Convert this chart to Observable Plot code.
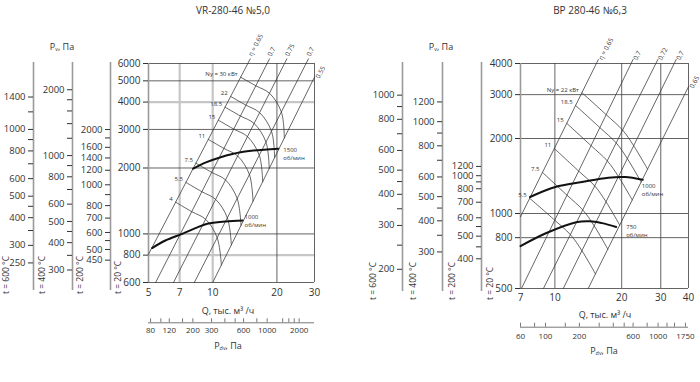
<!DOCTYPE html>
<html><head><meta charset="utf-8">
<script src="https://cdn.jsdelivr.net/npm/d3@7"></script>
<script src="https://cdn.jsdelivr.net/npm/@observablehq/plot@0.6"></script>
<style>
body{margin:0;background:#fff;}
#root{position:relative;width:700px;height:382px;overflow:hidden;font-family:"Open Sans",sans-serif;color:#333;}
.lbl{position:absolute;white-space:nowrap;transform:translate(-50%,-50%);line-height:1;}
.rot{position:absolute;white-space:nowrap;transform-origin:0 0;transform:rotate(-90deg);line-height:10px;}
sub{font-size:0.6em;vertical-align:-0.2em;}
</style></head><body><div id="root"></div>
<script>
// ================= LEFT PANEL: VR-280-46 №5,0 =================
const L_title = "VR-280-46 №5,0";
const L_qTicks = [5, 7, 10, 20, 30];
const L_pTicks = [600, 800, 1000, 2000, 3000, 4000, 5000, 6000];
const L_gridQ = [20, 30];
const L_gridQGray = [7, 10];
const L_gridP = [600, 1000, 2000, 3000, 5000, 6000];
const L_gridPGray = [800, 4000];
const L_etaNames = ["η = 0.65", "0.7", "0.75", "0.7", "0.55"];
const L_etaQ = [[5, 14.99], [5.4, 18.46], [6.55, 22.26], [8.2, 28.1], [10, 30]];
const L_etaP = [[807, 6300], [600, 6300], [600, 6300], [600, 6300], [600, 5200]];
const L_powerNames = ["Nу = 30 кВт", "22", "18.5", "15", "11", "7.5", "5.5", "4"];
const L_powerQ = [
  [13.52, 15.93, 18.45, 20.98, 21.66],
  [12.13, 14.32, 16.59, 18.86, 19.51],
  [11.43, 13.49, 15.63, 17.77, 18.40],
  [10.62, 12.55, 14.55, 16.53, 17.15],
  [9.53, 11.29, 13.09, 14.86, 15.45],
  [8.34, 9.89, 11.48, 13.02, 13.57],
  [7.49, 8.90, 10.32, 11.71, 12.23],
  [6.70, 7.97, 9.26, 10.49, 10.98]
];
const L_powerP = [
  [5195, 4746, 4390, 3605, 2743],
  [4243, 3872, 3579, 2941, 2233],
  [3790, 3455, 3194, 2625, 1991],
  [3306, 3011, 2783, 2287, 1732],
  [2701, 2456, 2269, 1866, 1410],
  [2104, 1910, 1764, 1451, 1094],
  [1719, 1558, 1438, 1184, 891],
  [1397, 1264, 1167, 961, 721]
];
const L_speedNames = ["1500", "1000"];
const L_speedQ = [[8.1, 9.3, 10.9, 13.5, 17.4, 20.3], [5.2, 6.0, 7.2, 8.3, 9.43, 11.49, 13.8]];
const L_speedP = [[1985, 2120, 2240, 2360, 2425, 2448], [862, 933, 1001, 1062, 1112, 1139, 1151]];
// auxiliary pressure scales (value at temperature t  <->  equivalent value on the 20 °C scale)
const L_t600Labels = [250, 300, 400, 500, 600, 800, 1000, 1400];
const L_t600Minor = [350, 450, 700, 900, 1200];
const L_t600Vals = [204, 1983];
const L_t600At20 = [600, 6000];
const L_t400Labels = [300, 400, 500, 600, 800, 1000, 2000];
const L_t400Minor = [350, 450, 700, 900, 1200, 1400, 1600, 1800];
const L_t400Vals = [263, 2636];
const L_t400At20 = [600, 6000];
const L_t200Labels = [450, 500, 600, 700, 800, 1000, 1200, 1400, 1600, 2000];
const L_t200Minor = [550, 900, 1800];
const L_t200Vals = [450, 500, 1000, 2000];
const L_t200At20 = [759, 849, 1676, 2997];
const L_pdvLabels = [80, 120, 200, 300, 600, 1000, 2000];
const L_pdvMinor = [100, 160, 400, 500, 800, 1400, 1600, 1800];
const L_pdvDomain = [76.5, 2790];

// ================= RIGHT PANEL: ВР 280-46 №6,3 =================
const R_title = "ВР 280-46 №6,3";
const R_qTicks = [7, 10, 20, 30, 40];
const R_pTicks = [500, 800, 1000, 2000, 3000, 4000];
const R_gridQ = [10, 20, 30, 40];
const R_gridQGray = [];
const R_gridP = [500, 800, 1000, 2000, 3000, 4000];
const R_gridPGray = [];
const R_etaNames = ["η = 0.65", "0.7", "0.72", "0.7", "0.65"];
const R_etaQ = [[7, 15.7], [7.07, 22.5], [8.88, 29.1], [10.91, 35.2], [14.13, 40]];
const R_etaP = [[970, 4150], [500, 4150], [500, 4150], [500, 4150], [500, 3227]];
const R_powerNames = ["Nу = 22 кВт", "18.5", "15", "11", "7.5", "5.5"];
const R_powerQ = [
  [13.24, 17.01, 20.2, 22.58, 26.16],
  [12.40, 15.94, 18.90, 21.15, 24.48],
  [11.31, 14.55, 17.23, 19.30, 22.32],
  [9.94, 12.80, 15.12, 16.97, 19.60],
  [8.79, 11.33, 13.35, 15.01, 17.32],
  [7.70, 9.985, 11.75, 13.23, 15.24]
];
const R_powerP = [
  [3055, 2494, 2160, 1879, 1506],
  [2714, 2212, 1919, 1667, 1337],
  [2302, 1872, 1626, 1411, 1133],
  [1824, 1480, 1290, 1117, 898],
  [1462, 1185, 1034, 894, 719],
  [1151, 940, 822, 710, 572]
];
const R_speedNames = ["1000", "750"];
const R_speedQ = [[7.73, 10.05, 13.24, 17.42, 20.7, 24.9], [7.0, 9.16, 12.47, 14.41, 16.3, 18.9]];
const R_speedP = [[1165, 1277, 1337, 1392, 1400, 1365], [740, 835, 923, 931, 915, 883]];
const R_t600Labels = [200, 300, 400, 500, 600, 800, 1000];
const R_t600Minor = [250, 350, 450, 700, 900];
const R_t600Vals = [167.5, 1340];
const R_t600At20 = [500, 4000];
const R_t400Labels = [300, 400, 500, 600, 800, 1000, 1200];
const R_t400Minor = [350, 450, 700, 900];
const R_t400Vals = [214, 1712];
const R_t400At20 = [500, 4000];
const R_t200Labels = [400, 500, 600, 700, 800, 1000, 1200];
const R_t200Minor = [450, 550, 900];
const R_t200Vals = [400, 500, 800, 1000, 1200];
const R_t200At20 = [658, 811, 1257, 1418, 1545];
const R_pdvLabels = [60, 100, 200, 600, 1000, 1750];
const R_pdvMinor = [80, 150, 300, 400, 500, 800, 1200, 1400];
const R_pdvDomain = [60, 1863];

// ================= drawing =================
const root = document.getElementById("root");
function place(el, left, top) {
  const d = document.createElement("div");
  d.style.cssText = `position:absolute;left:${left}px;top:${top}px;`;
  d.appendChild(el); root.appendChild(d);
}
function label(html, x, y, size, cls = "lbl") {
  const d = document.createElement("div");
  d.className = cls; d.innerHTML = html;
  d.style.left = x + "px"; d.style.top = y + "px"; d.style.fontSize = size + "px";
  root.appendChild(d);
}
const baseStyle = {fontFamily: "'Open Sans', sans-serif", fontSize: "10px", background: "transparent", overflow: "visible", color: "#333"};
const series = (names, Qs, Ps) => names.flatMap((name, i) => Qs[i].map((q, j) => ({name, i, q, p: Ps[i][j]})));
const firsts = (names, Qs, Ps) => names.map((name, i) => ({name, i, q: Qs[i][0], p: Ps[i][0]}));
const lasts = (names, Qs, Ps) => names.map((name, i) => ({name, i, q: Qs[i][Qs[i].length - 1], p: Ps[i][Ps[i].length - 1]}));

function mainChart(c) {
  const eta = series(c.etaNames, c.etaQ, c.etaP);
  const pow = series(c.powerNames, c.powerQ, c.powerP);
  const spd = series(c.speedNames, c.speedQ, c.speedP);
  const etaTop = lasts(c.etaNames, c.etaQ, c.etaP);
  const powStart = firsts(c.powerNames, c.powerQ, c.powerP);
  const spdEnd = lasts(c.speedNames, c.speedQ, c.speedP);
  const nEta = etaTop.length;
  return Plot.plot({
    width: c.W, height: c.H, marginLeft: c.ml, marginRight: c.mr, marginTop: c.mt, marginBottom: c.mb,
    style: baseStyle,
    x: {type: "log", domain: c.xDom, label: null},
    y: {type: "log", domain: c.yDom, label: null},
    marks: [
      Plot.ruleY(c.gridPGray, {stroke: "#c6c6c6", strokeWidth: 2.2}),
      Plot.ruleX(c.gridQGray, {stroke: "#c6c6c6", strokeWidth: 2.2}),
      Plot.ruleY(c.gridP, {stroke: "#3c3c3c", strokeWidth: 0.8}),
      Plot.ruleX(c.gridQ, {stroke: "#3c3c3c", strokeWidth: 0.8}),
      Plot.ruleX([c.xDom[0]], {stroke: "#9a9a9a", strokeWidth: 1.6}),
      Plot.line(eta, {x: "q", y: "p", z: "i", stroke: "#333", strokeWidth: 0.75}),
      Plot.line(pow, {x: "q", y: "p", z: "i", stroke: "#333", strokeWidth: 0.75, curve: "catmull-rom"}),
      Plot.line(spd, {x: "q", y: "p", z: "i", stroke: "#111", strokeWidth: 2, curve: "catmull-rom"}),
      Plot.text(etaTop.slice(0, nEta - 1), {x: "q", y: "p", text: "name", rotate: -62, textAnchor: "start", dx: c.etaDx, dy: c.etaDy, fontSize: 6.5, fill: "#333"}),
      Plot.text(etaTop.slice(nEta - 1), {x: "q", y: "p", text: "name", rotate: -62, textAnchor: "start", dx: 3, dy: 1, fontSize: 6.5, fill: "#333"}),
      Plot.text(powStart, {x: "q", y: "p", text: "name", textAnchor: "end", dx: -3, dy: -3, fontSize: 6, fill: "#333"}),
      ...spdEnd.map((d, k) => Plot.text([d], {x: "q", y: "p", text: (e) => e.name + "\nоб/мин", textAnchor: "start", lineAnchor: "top", lineHeight: 1.35, dx: c.spdOff[k][0], dy: c.spdOff[k][1], fontSize: 6, fill: "#333"})),
      Plot.axisX({ticks: c.qTicks, tickSize: 0, tickPadding: c.xPad, tickFormat: String, label: null, fontSize: 10}),
      Plot.axisY({ticks: c.pTicks, tickSize: 5, tickPadding: 3, tickFormat: String, label: null, fontSize: 10})
    ]
  });
}

function auxChart(c, mainY) {
  return Plot.plot({
    width: c.W, height: c.H, marginLeft: c.ml, marginRight: c.W - c.ml - 1, marginTop: c.mt, marginBottom: c.mb,
    style: baseStyle,
    x: {domain: [0, 1], axis: null},
    y: {type: "log", domain: c.vals, range: c.at20.map(mainY), label: null},
    marks: [
      Plot.ruleX([0], {stroke: "#9a9a9a", strokeWidth: 1.6}),
      Plot.axisY({ticks: c.minor, tickSize: 5, tickFormat: () => "", label: null}),
      Plot.axisY({ticks: c.labels, tickSize: 5, tickPadding: 3, tickFormat: String, label: null, fontSize: 9.5})
    ]
  });
}

function pdvChart(c) {
  return Plot.plot({
    width: c.W, height: c.H, marginLeft: c.ml, marginRight: c.mr, marginTop: c.lineY - 4, marginBottom: c.H - c.lineY,
    style: {...baseStyle, fontSize: "8px"},
    x: {type: "log", domain: c.dom, label: null, axis: null},
    y: {domain: [0, 1], axis: null},
    marks: [
      Plot.ruleY([0], {stroke: "#777", strokeWidth: 1}),
      Plot.ruleX(c.labels.concat(c.minor), {y1: 0, y2: 1, stroke: "#777"}),
      Plot.text(c.labels, {x: (d) => d, frameAnchor: "bottom", text: (d) => String(d), lineAnchor: "top", dy: c.pad, fontSize: 8, fill: "#333"})
    ]
  });
}

// ---- left panel ----
const LH = 300, LMT = 63, LMB = 18;
const L_yDom = [600, 6000];
const L_mainY = d3.scaleLog().domain(L_yDom).range([LH - LMB, LMT]);
place(auxChart({W: 34, H: LH, ml: 33, mt: 62, mb: 10, vals: L_t600Vals, at20: L_t600At20, labels: L_t600Labels, minor: L_t600Minor}, L_mainY), 0, 0);
place(auxChart({W: 35, H: LH, ml: 34, mt: 62, mb: 10, vals: L_t400Vals, at20: L_t400At20, labels: L_t400Labels, minor: L_t400Minor}, L_mainY), 38, 0);
place(auxChart({W: 35, H: LH, ml: 34, mt: 62, mb: 10, vals: L_t200Vals, at20: L_t200At20, labels: L_t200Labels, minor: L_t200Minor}, L_mainY), 76, 0);
place(mainChart({
  W: 330, H: LH, ml: 148, mr: 16, mt: LMT, mb: LMB, xDom: [5, 30], yDom: L_yDom, xPad: 6.5,
  qTicks: L_qTicks, pTicks: L_pTicks, gridQ: L_gridQ, gridQGray: L_gridQGray, gridP: L_gridP, gridPGray: L_gridPGray,
  etaNames: L_etaNames, etaQ: L_etaQ, etaP: L_etaP, etaDx: 0, etaDy: -3,
  powerNames: L_powerNames, powerQ: L_powerQ, powerP: L_powerP,
  speedNames: L_speedNames, speedQ: L_speedQ, speedP: L_speedP, spdOff: [[5, -3], [2, -7]]
}), 0, 0);
place(pdvChart({W: 330, H: 60, ml: 148, mr: 16, lineY: 22.3, pad: 5, dom: L_pdvDomain, labels: L_pdvLabels, minor: L_pdvMinor}), 0, 300);

// ---- right panel ----
const RH = 305, RMT = 63, RMB = 17;
const R_yDom = [500, 4000];
const R_mainY = d3.scaleLog().domain(R_yDom).range([RH - RMB, RMT]);
place(auxChart({W: 35, H: RH, ml: 34, mt: 62, mb: 14, vals: R_t600Vals, at20: R_t600At20, labels: R_t600Labels, minor: R_t600Minor}, R_mainY), 368, 0);
place(auxChart({W: 35, H: RH, ml: 34, mt: 62, mb: 14, vals: R_t400Vals, at20: R_t400At20, labels: R_t400Labels, minor: R_t400Minor}, R_mainY), 408, 0);
place(auxChart({W: 35, H: RH, ml: 34, mt: 62, mb: 14, vals: R_t200Vals, at20: R_t200At20, labels: R_t200Labels, minor: R_t200Minor}, R_mainY), 447, 0);
place(mainChart({
  W: 320, H: RH, ml: 140, mr: 12, mt: RMT, mb: RMB, xDom: [7, 40], yDom: R_yDom, xPad: 5.5,
  qTicks: R_qTicks, pTicks: R_pTicks, gridQ: R_gridQ, gridQGray: R_gridQGray, gridP: R_gridP, gridPGray: R_gridPGray,
  etaNames: R_etaNames, etaQ: R_etaQ, etaP: R_etaP, etaDx: 2, etaDy: 0,
  powerNames: R_powerNames, powerQ: R_powerQ, powerP: R_powerP,
  speedNames: R_speedNames, speedQ: R_speedQ, speedP: R_speedP, spdOff: [[-1, 2], [10, -4]]
}), 380, 0);
place(pdvChart({W: 320, H: 60, ml: 140, mr: 12, lineY: 26.7, pad: 6, dom: R_pdvDomain, labels: R_pdvLabels, minor: R_pdvMinor}), 380, 300);

// ---- text ----
label(L_title, 233, 10, 10);
label(R_title, 590, 10, 10);
label("P<sub>v</sub>, Па", 62, 47, 9);
label("P<sub>v</sub>, Па", 441, 47, 9);
label("Q, тыс. м³ /ч", 228, 310, 9);
label("Q, тыс. м³ /ч", 605, 314, 9);
label("P<sub>dv</sub>, Па", 228, 346, 9);
label("P<sub>dv</sub>, Па", 604, 351, 9);
[["t = 600 °C", 6], ["t = 400 °C", 42], ["t = 200 °C", 80], ["t = 20 °C", 118]].forEach(([t, x]) => label(t, x - 5, 294, 8.5, "rot"));
[["t = 600 °C", 373], ["t = 400 °C", 413], ["t = 200 °C", 452], ["t = 20 °C", 490]].forEach(([t, x]) => label(t, x - 5, 300, 8.5, "rot"));
</script></body></html>
